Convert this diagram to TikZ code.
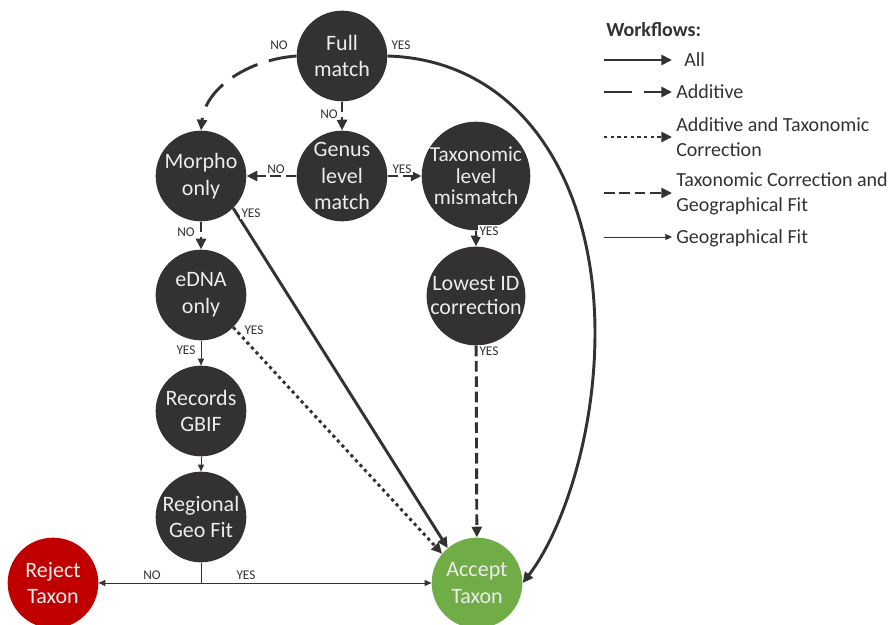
\documentclass[tikz,border=0pt]{standalone}
\usepackage{fontspec}
\setmainfont{Carlito}
\usetikzlibrary{arrows.meta}
\definecolor{nodegray}{RGB}{51,49,50}
\definecolor{linegray}{RGB}{50,50,50}
\definecolor{rejred}{RGB}{192,0,0}
\definecolor{accgreen}{RGB}{112,173,71}
\definecolor{txtgray}{RGB}{236,236,236}
\begin{document}
\begin{tikzpicture}[x=0.75pt,y=-0.75pt,
  decision/.style={circle, fill=nodegray, text=txtgray, minimum size=68pt, inner sep=0pt, align=center, font=\fontsize{16.5}{20}\selectfont},
  allflow/.style={line width=2.2pt, draw=linegray, -{Triangle[length=8pt,width=7.5pt]}},
  additive/.style={allflow, dash pattern=on 21pt off 9pt},
  addtax/.style={allflow, dash pattern=on 2.4pt off 2.6pt},
  taxgeo/.style={allflow, dash pattern=on 8pt off 3.5pt},
  geofit/.style={line width=0.75pt, draw=linegray, -{Triangle[length=5pt,width=4.5pt]}},
  plainline/.style={line width=0.75pt, draw=linegray},
  lab/.style={font=\fontsize{10}{11}\selectfont, text=linegray, fill=white, inner sep=1pt},
  legtext/.style={font=\fontsize{15}{18.75}\selectfont, text=linegray, align=left, anchor=west, inner sep=0pt}
]
\useasboundingbox (0,0) rectangle (893,625);

% nodes
\node[decision] (full) at (342,56) {Full\\match};
\node[decision] (genus) at (342,176) {Genus\\level\\match};
\node[decision] (morpho) at (201,176) {Morpho\\only};
\node[decision, font=\fontsize{16}{16}\selectfont] (taxo) at (476,176) {Taxonomic\\level\\mismatch};
\node[decision, font=\fontsize{16.5}{18}\selectfont] (lowest) at (476,296) {Lowest ID\\correction};
\node[decision] (edna) at (201,295) {eDNA\\only};
\node[decision] (records) at (201,411) {Records\\GBIF};
\node[decision] (regional) at (201,517) {Regional\\Geo Fit};
\node[decision, fill=rejred] (reject) at (53,583) {Reject\\Taxon};
\node[decision, fill=accgreen] (accept) at (477,583) {Accept\\Taxon};

% connectors
\draw[additive] (full.west) .. controls (245,60) and (205,90) .. (morpho.north);
\coordinate (bend) at (595,333);
\draw[allflow] (full.east) .. controls (520,60) and (595,180) .. (bend)
  .. controls (595,440) and (560,535) .. (accept.east);
\draw[taxgeo] (full) -- (genus);
\draw[taxgeo] (genus) -- (morpho);
\draw[taxgeo] (genus) -- (taxo);
\draw[taxgeo] (morpho) -- (edna);
\draw[taxgeo] (taxo) -- (lowest);
\draw[taxgeo] (lowest) -- (accept);
\draw[allflow] (morpho.-45) -- (accept.130);
\draw[addtax] (edna.-45) -- (accept.140);
\draw[geofit] (edna) -- (records);
\draw[geofit] (records) -- (regional);
\coordinate (junc) at (201,583);
\draw[plainline] (regional.south) -- (junc);
\draw[geofit] (junc) -- (reject.east);
\draw[geofit] (junc) -- (accept.west);

% labels
\node[lab] (l1) at (279,45) {NO};
\node[lab] (l2) at (401,45) {YES};
\node[lab] (l3) at (329,114) {NO};
\node[lab] (l4) at (276,169) {NO};
\node[lab] (l5) at (402,169) {YES};
\node[lab] (l6) at (251,213) {YES};
\node[lab] (l7) at (186,232) {NO};
\node[lab] (l8) at (489,231) {YES};
\node[lab] (l9) at (254,330) {YES};
\node[lab] (l10) at (186,350) {YES};
\node[lab] (l11) at (489,351) {YES};
\node[lab] (l12) at (152,575) {NO};
\node[lab] (l13) at (246,575) {YES};

% legend
\node[legtext, font=\fontsize{15}{18}\selectfont\bfseries] (wf) at (606,30) {Workflows:};
\coordinate (a1) at (604,60); \coordinate (a2) at (672,60);
\draw[allflow] (a1) -- (a2);
\node[legtext] (t1) at (684,60) {All};
\coordinate (b1) at (604,92); \coordinate (b2) at (672,92);
\draw[additive] (b1) -- (b2);
\node[legtext] (t2) at (676,92) {Additive};
\coordinate (c1) at (604,137); \coordinate (c2) at (672,137);
\draw[addtax] (c1) -- (c2);
\node[legtext] (t3) at (676,137) {Additive and Taxonomic\\Correction};
\coordinate (d1) at (604,193); \coordinate (d2) at (672,193);
\draw[taxgeo] (d1) -- (d2);
\node[legtext] (t4) at (676,194) {Taxonomic Correction and\\Geographical Fit};
\coordinate (e1) at (604,237); \coordinate (e2) at (672,237);
\draw[geofit] (e1) -- (e2);
\node[legtext] (t5) at (676,238) {Geographical Fit};
\end{tikzpicture}
\end{document}
